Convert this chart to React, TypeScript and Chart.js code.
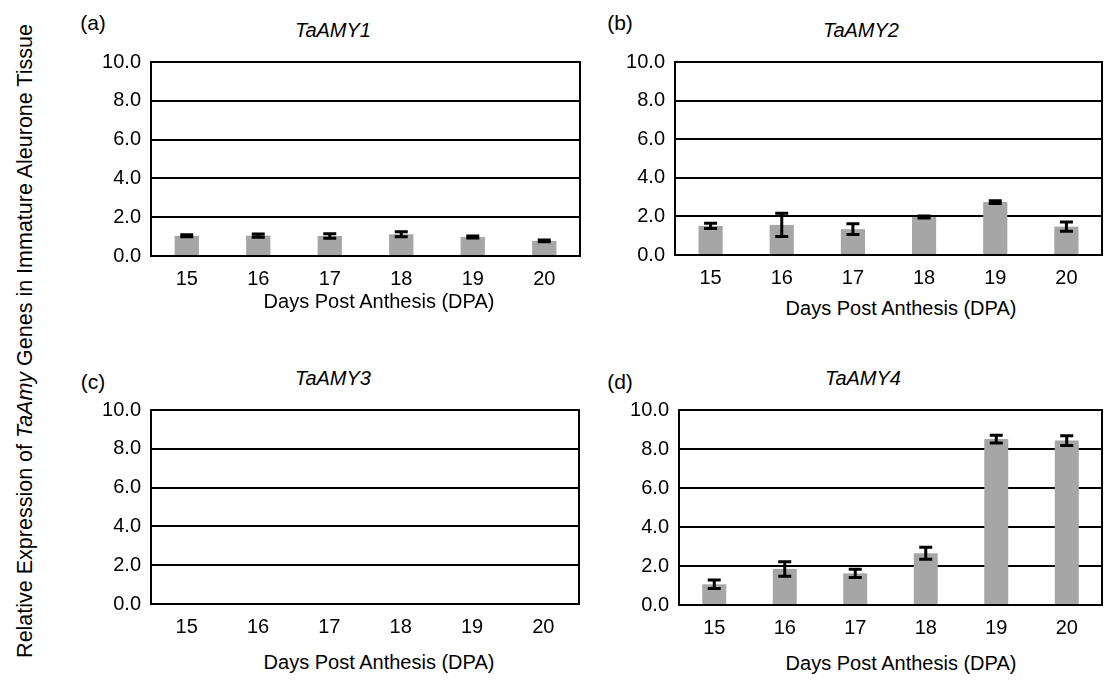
import React, { useEffect, useRef } from "react";
import { Chart, registerables } from "chart.js";

Chart.register(...registerables);

// ---------- data ----------
const DPA_LABELS = ["15", "16", "17", "18", "19", "20"];
const Y_MIN = 0;
const Y_MAX = 10;
const Y_STEP = 2;

const TAAMY1_VALUES = [1.04, 1.05, 1.03, 1.12, 0.98, 0.78];
const TAAMY1_ERRORS = [0.05, 0.08, 0.12, 0.13, 0.05, 0.05];

const TAAMY2_VALUES = [1.51, 1.56, 1.34, 1.97, 2.74, 1.47];
const TAAMY2_ERRORS = [0.14, 0.6, 0.28, 0.05, 0.07, 0.24];

const TAAMY3_VALUES: (number | null)[] = [null, null, null, null, null, null];
const TAAMY3_ERRORS: (number | null)[] = [null, null, null, null, null, null];

const TAAMY4_VALUES = [1.06, 1.85, 1.62, 2.65, 8.51, 8.43];
const TAAMY4_ERRORS = [0.22, 0.37, 0.21, 0.31, 0.2, 0.25];

const FONT = "'Liberation Sans', Arial, Helvetica, sans-serif";
const BAR_COLOR = "#A6A6A6";
const Y_AXIS_W = 70;
const X_AXIS_H = 40;
const PAD = 14;

type Box = { left: number; top: number; right: number; bottom: number };

const framePlugin = {
  id: "frame",
  afterDraw(chart: any) {
    const { ctx, chartArea } = chart;
    ctx.save();
    ctx.strokeStyle = "#000";
    ctx.lineWidth = 2;
    ctx.strokeRect(chartArea.left, chartArea.top, chartArea.right - chartArea.left, chartArea.bottom - chartArea.top);
    ctx.restore();
  },
};

function makeErrorPlugin(errors: (number | null)[]) {
  return {
    id: "errorBars",
    afterDatasetsDraw(chart: any) {
      const { ctx } = chart;
      const yScale = chart.scales.y;
      const meta = chart.getDatasetMeta(0);
      const data = chart.data.datasets[0].data as (number | null)[];
      ctx.save();
      ctx.strokeStyle = "#000";
      ctx.lineWidth = 3;
      meta.data.forEach((el: any, i: number) => {
        const v = data[i];
        const e = errors[i];
        if (v == null || e == null) return;
        const x = el.x;
        const yHi = yScale.getPixelForValue(v + e);
        const yLo = yScale.getPixelForValue(v - e);
        const cap = 6.5;
        ctx.beginPath();
        ctx.moveTo(x, yHi);
        ctx.lineTo(x, yLo);
        ctx.moveTo(x - cap, yHi);
        ctx.lineTo(x + cap, yHi);
        ctx.moveTo(x - cap, yLo);
        ctx.lineTo(x + cap, yLo);
        ctx.stroke();
      });
      ctx.restore();
    },
  };
}

function Panel({ box, values, errors }: { box: Box; values: (number | null)[]; errors: (number | null)[] }) {
  const ref = useRef<HTMLCanvasElement | null>(null);
  const cLeft = box.left - Y_AXIS_W;
  const cTop = box.top - PAD;
  const cWidth = box.right + PAD - cLeft;
  const cHeight = box.bottom + X_AXIS_H - cTop;

  useEffect(() => {
    if (!ref.current) return;
    const chart = new Chart(ref.current, {
      type: "bar",
      data: {
        labels: DPA_LABELS,
        datasets: [
          {
            data: values as any,
            backgroundColor: BAR_COLOR,
            borderWidth: 0,
            categoryPercentage: 1,
            barPercentage: 0.34,
          },
        ],
      },
      options: {
        responsive: false,
        animation: false,
        devicePixelRatio: 1,
        layout: { padding: { top: PAD, right: PAD, left: 0, bottom: 0 } },
        plugins: { legend: { display: false }, tooltip: { enabled: false }, title: { display: false } },
        scales: {
          x: {
            offset: true,
            afterFit: (s: any) => {
              s.height = X_AXIS_H;
              s.paddingLeft = 0;
              s.paddingRight = 0;
            },
            grid: { display: false, drawTicks: false },
            border: { display: true, color: "#000", width: 2 },
            ticks: { color: "#000", font: { family: FONT, size: 20 }, padding: 11, maxRotation: 0 },
          },
          y: {
            min: Y_MIN,
            max: Y_MAX,
            afterFit: (s: any) => {
              s.width = Y_AXIS_W;
              s.paddingTop = 0;
              s.paddingBottom = 0;
            },
            grid: { color: "#000", lineWidth: 2, drawTicks: false },
            border: { display: true, color: "#000", width: 2 },
            ticks: {
              stepSize: Y_STEP,
              color: "#000",
              font: { family: FONT, size: 20 },
              padding: 10,
              callback: (v: any) => Number(v).toFixed(1),
            },
          },
        },
      },
      plugins: [makeErrorPlugin(errors), framePlugin],
    });
    return () => chart.destroy();
  }, []);

  return (
    <canvas
      ref={ref}
      width={cWidth}
      height={cHeight}
      style={{ position: "absolute", left: cLeft, top: cTop, width: cWidth, height: cHeight }}
    />
  );
}

function Label({ x, y, size, italic, children }: { x: number; y: number; size: number; italic?: boolean; children: any }) {
  return (
    <div
      style={{
        position: "absolute",
        left: x,
        top: y,
        transform: "translate(-50%, -50%)",
        fontFamily: FONT,
        fontSize: size,
        fontStyle: italic ? "italic" : "normal",
        whiteSpace: "nowrap",
        color: "#000",
        lineHeight: 1,
      }}
    >
      {children}
    </div>
  );
}

const PANELS = [
  { letter: "(a)", gene: "TaAMY1", values: TAAMY1_VALUES, errors: TAAMY1_ERRORS, box: { left: 151, top: 62, right: 580, bottom: 256 }, letterPos: [93, 22], titlePos: [333, 30], axisPos: [379, 301] },
  { letter: "(b)", gene: "TaAMY2", values: TAAMY2_VALUES, errors: TAAMY2_ERRORS, box: { left: 675, top: 62, right: 1102, bottom: 255 }, letterPos: [620, 22], titlePos: [861, 30], axisPos: [901, 308] },
  { letter: "(c)", gene: "TaAMY3", values: TAAMY3_VALUES, errors: TAAMY3_ERRORS, box: { left: 151, top: 410, right: 579, bottom: 604 }, letterPos: [93, 381], titlePos: [333, 378], axisPos: [379, 662] },
  { letter: "(d)", gene: "TaAMY4", values: TAAMY4_VALUES, errors: TAAMY4_ERRORS, box: { left: 679, top: 410, right: 1102, bottom: 605 }, letterPos: [620, 381], titlePos: [863, 378], axisPos: [901, 663] },
];

export default function App() {
  return (
    <div style={{ position: "absolute", left: 0, top: 0, width: 1105, height: 691, background: "#fff", overflow: "hidden" }}>
      {PANELS.map((p) => (
        <React.Fragment key={p.gene}>
          <Panel box={p.box} values={p.values} errors={p.errors} />
          <Label x={p.letterPos[0]} y={p.letterPos[1]} size={21}>{p.letter}</Label>
          <Label x={p.titlePos[0]} y={p.titlePos[1]} size={20} italic>{p.gene}</Label>
          <Label x={p.axisPos[0]} y={p.axisPos[1]} size={20}>Days Post Anthesis (DPA)</Label>
        </React.Fragment>
      ))}
      <div
        style={{
          position: "absolute",
          left: 26,
          top: 341,
          transform: "translate(-50%, -50%) rotate(-90deg)",
          fontFamily: FONT,
          fontSize: 21.5,
          whiteSpace: "nowrap",
          color: "#000",
          lineHeight: 1,
        }}
      >
        Relative Expression of <i>TaAmy</i> Genes in Immature Aleurone Tissue
      </div>
    </div>
  );
}
